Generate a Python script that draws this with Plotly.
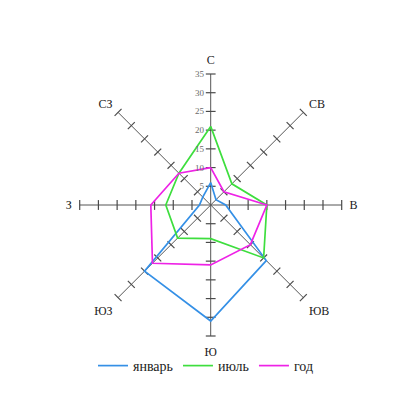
import plotly.graph_objects as go

directions = ["С", "СВ", "В", "ЮВ", "Ю", "ЮЗ", "З", "СЗ"]
january = [6, 2, 4, 21, 31, 25, 3, 3]
july = [21, 8, 15, 20, 9, 12.5, 12, 12]
year = [10, 5, 15, 15, 16, 22, 16, 12]
radial_ticks = [5, 10, 15, 20, 25, 30, 35]
series = [("январь", january, "#3590e6"), ("июль", july, "#3ede3e"), ("год", year, "#ee22e6")]

W, H = 416, 407
OFF = 8  # page body margin
cx, cy, R = 210.7 - OFF, 205 - OFF, 131

fig = go.Figure()

# tick marks across every spoke
tr, tt, ta = [], [], []
for i, d in enumerate(directions):
    for r in radial_ticks:
        tr.append(r)
        tt.append(d)
        ta.append(i * 45)
fig.add_trace(go.Scatterpolar(
    r=tr, theta=tt, mode="markers", showlegend=False, hoverinfo="skip",
    marker=dict(symbol="line-ew", size=7, angle=ta, color="#4a4a4a",
                line=dict(width=1.2, color="#4a4a4a")),
))

for name, vals, col in series:
    fig.add_trace(go.Scatterpolar(
        r=vals + vals[:1], theta=directions + directions[:1], mode="lines",
        name=name, line=dict(color=col, width=1.7),
    ))

fig.update_layout(
    width=W, height=H,
    margin=dict(l=0, r=0, t=0, b=0),
    paper_bgcolor="white",
    font=dict(family="Liberation Serif", color="#222"),
    polar=dict(
        domain=dict(x=[(cx - R) / W, (cx + R) / W], y=[1 - (cy + R) / H, 1 - (cy - R) / H]),
        bgcolor="rgba(0,0,0,0)",
        radialaxis=dict(range=[0, 35], tickvals=radial_ticks, showgrid=False,
                        showline=False, ticks="outside", ticklen=3,
                        tickcolor="rgba(0,0,0,0)", angle=90, tickangle=90,
                        side="counterclockwise",
                        tickfont=dict(size=9, color="#6a6a6a", family="Liberation Serif")),
        angularaxis=dict(type="category", categoryarray=directions,
                         direction="clockwise", rotation=90,
                         showline=False, ticks="outside", ticklen=5,
                         tickcolor="rgba(0,0,0,0)", showgrid=True,
                         gridcolor="#555", gridwidth=1.2,
                         tickfont=dict(size=12, color="#222", family="Liberation Serif")),
    ),
    legend=dict(orientation="h", x=(206 - OFF) / W, xanchor="center", y=1 - (366 - OFF) / H,
                yanchor="middle", bgcolor="rgba(0,0,0,0)",
                font=dict(size=14, family="Liberation Serif"),
                itemwidth=30),
)

fig.write_html("out.html")
